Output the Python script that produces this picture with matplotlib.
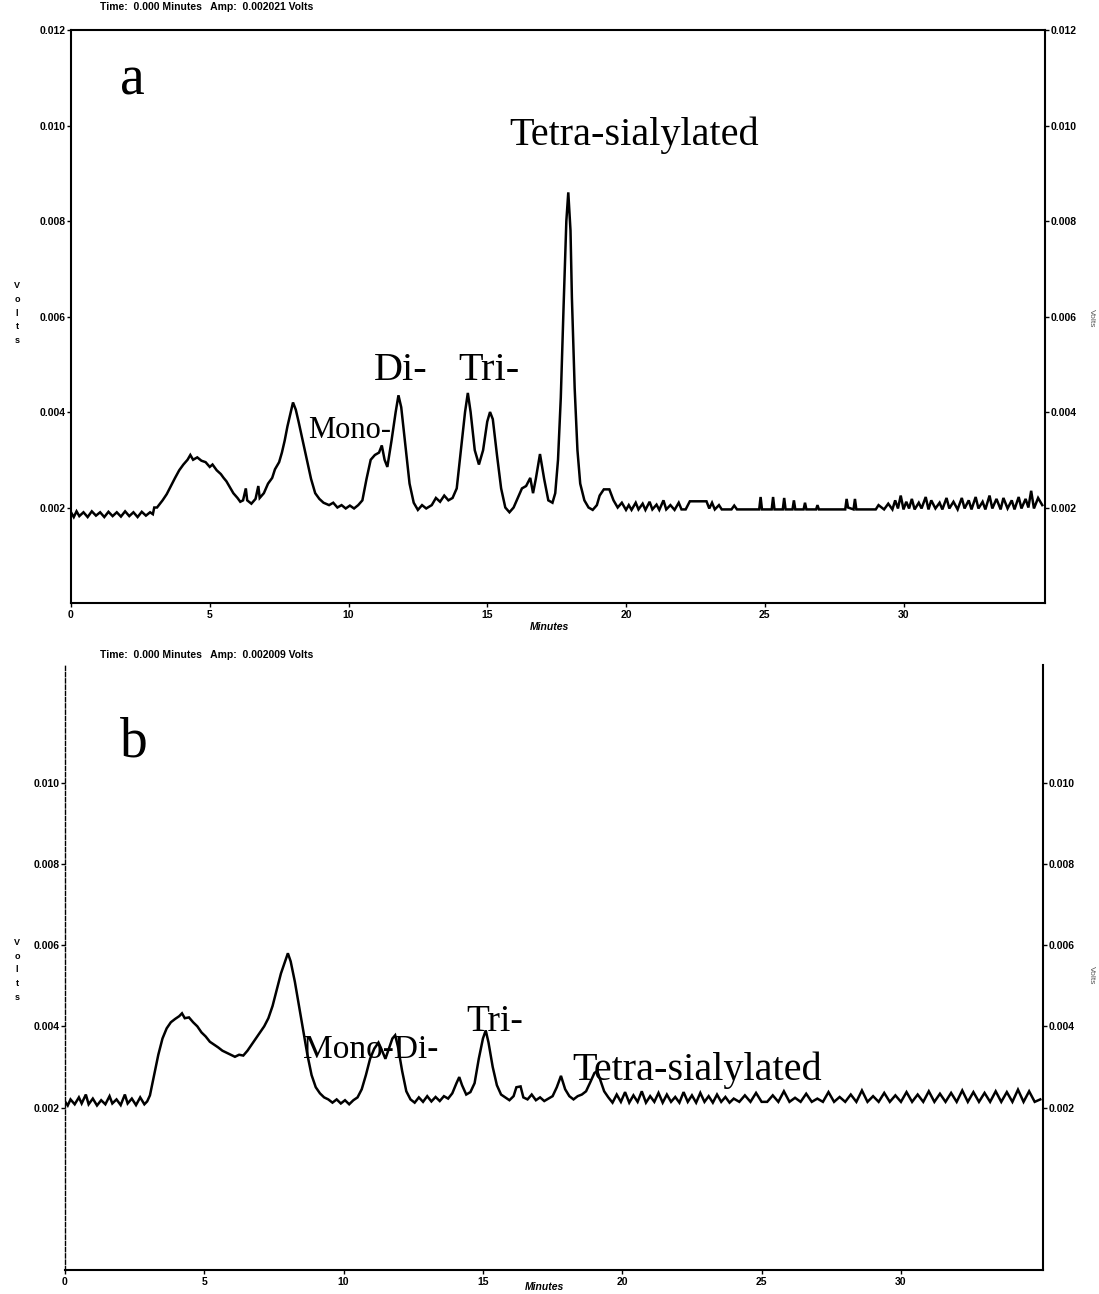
import matplotlib
matplotlib.use("Agg")
import matplotlib.pyplot as plt
from matplotlib.font_manager import FontProperties

# ---- panel a trace (minutes, volts) ----
time_a = [0.0, 0.1, 0.2, 0.3, 0.45, 0.6, 0.75, 0.9, 1.05, 1.2, 1.35, 1.5, 1.65, 1.8, 1.95, 2.1, 2.25, 2.4, 2.55, 2.7, 2.85, 2.95,
          3.0, 3.1, 3.3, 3.45, 3.6, 3.75, 3.9, 4.05, 4.2, 4.3, 4.4, 4.55, 4.7, 4.85, 5.0, 5.1, 5.25, 5.4, 5.5, 5.6, 5.75, 5.85,
          6.0, 6.1, 6.2, 6.3, 6.35, 6.5, 6.65, 6.75, 6.8, 6.95, 7.1, 7.25, 7.35, 7.5, 7.6, 7.7, 7.8, 7.9, 8.0, 8.1, 8.2, 8.35,
          8.5, 8.65, 8.8, 8.95, 9.1, 9.3, 9.45, 9.6, 9.75, 9.9, 10.05, 10.2, 10.35, 10.5, 10.65, 10.8, 10.95, 11.1, 11.2, 11.3,
          11.4, 11.55, 11.7, 11.8, 11.9, 12.05, 12.2, 12.35, 12.5, 12.65, 12.8, 13.0, 13.15, 13.3, 13.45, 13.6, 13.75, 13.9,
          14.05, 14.2, 14.3, 14.4, 14.55, 14.7, 14.85, 15.0, 15.1, 15.2, 15.35, 15.5, 15.65, 15.8, 15.95, 16.1, 16.25, 16.4,
          16.55, 16.65, 16.75, 16.9, 17.05, 17.2, 17.35, 17.45, 17.55, 17.65, 17.75, 17.85, 17.92, 18.0, 18.05, 18.15, 18.25,
          18.35, 18.5, 18.65, 18.8, 18.95, 19.05, 19.2, 19.4, 19.55, 19.7, 19.85,
          20.0, 20.1, 20.2, 20.35, 20.45, 20.6, 20.7, 20.85, 20.95, 21.1, 21.2, 21.35, 21.45, 21.6, 21.75, 21.9, 22.0, 22.15,
          22.3, 22.9, 23.0, 23.1, 23.2, 23.35, 23.45, 23.8, 23.9, 24.0, 24.8, 24.85, 24.9, 25.25, 25.3, 25.35, 25.65, 25.7,
          25.75, 26.0, 26.05, 26.1, 26.4, 26.45, 26.5, 26.85, 26.9, 26.95, 27.9, 27.95, 28.0, 28.2, 28.25, 28.3, 29.0, 29.1,
          29.3, 29.45, 29.6, 29.7, 29.8, 29.9, 30.0, 30.1, 30.2, 30.3, 30.4, 30.55, 30.65, 30.8, 30.9, 31.0, 31.15, 31.3, 31.4,
          31.55, 31.65, 31.8, 31.95, 32.1, 32.2, 32.35, 32.45, 32.6, 32.7, 32.85, 32.95, 33.1, 33.2, 33.35, 33.5, 33.6, 33.75,
          33.9, 34.0, 34.15, 34.25, 34.4, 34.5, 34.6, 34.7, 34.85, 35.0]
volts_a = [0.00190, 0.00180, 0.00192, 0.00182, 0.00190, 0.00180, 0.00192, 0.00183, 0.00190, 0.00180, 0.00191, 0.00182,
           0.00190, 0.00181, 0.00192, 0.00182, 0.00190, 0.00180, 0.00191, 0.00183, 0.00190, 0.00186,
           0.00200, 0.00200, 0.00215, 0.00228, 0.00245, 0.00262, 0.00278, 0.00290, 0.00300, 0.00310, 0.00300, 0.00305,
           0.00298, 0.00295, 0.00285, 0.00290, 0.00278, 0.00270, 0.00262, 0.00255, 0.00240, 0.00230,
           0.00220, 0.00212, 0.00215, 0.00240, 0.00215, 0.00208, 0.00218, 0.00245, 0.00220, 0.00230, 0.00250, 0.00262,
           0.00280, 0.00295, 0.00315, 0.00340, 0.00370, 0.00395, 0.00420, 0.00405, 0.00380, 0.00340,
           0.00300, 0.00260, 0.00230, 0.00218, 0.00210, 0.00205, 0.00210, 0.00200, 0.00205, 0.00198, 0.00204, 0.00198,
           0.00205, 0.00215, 0.00260, 0.00300, 0.00310, 0.00315, 0.00330, 0.00300,
           0.00285, 0.00340, 0.00400, 0.00435, 0.00410, 0.00330, 0.00250, 0.00210, 0.00195, 0.00205, 0.00198, 0.00205,
           0.00220, 0.00212, 0.00225, 0.00215, 0.00220, 0.00240,
           0.00320, 0.00400, 0.00440, 0.00400, 0.00320, 0.00290, 0.00320, 0.00380, 0.00400, 0.00385, 0.00310, 0.00240,
           0.00200, 0.00190, 0.00200, 0.00220, 0.00240, 0.00245,
           0.00262, 0.00230, 0.00260, 0.00312, 0.00260, 0.00215, 0.00210, 0.00230, 0.00300, 0.00430, 0.00620, 0.00800,
           0.00860, 0.00780, 0.00640, 0.00450, 0.00320,
           0.00250, 0.00215, 0.00200, 0.00195, 0.00205, 0.00225, 0.00238, 0.00238, 0.00215, 0.00200, 0.00210,
           0.00195, 0.00205, 0.00195, 0.00210, 0.00196, 0.00208, 0.00195, 0.00212, 0.00196, 0.00206, 0.00195, 0.00215,
           0.00196, 0.00205, 0.00195, 0.00210, 0.00196, 0.00196,
           0.00213, 0.00213, 0.00198, 0.00210, 0.00196, 0.00205, 0.00196, 0.00196, 0.00204, 0.00196, 0.00196, 0.00222,
           0.00196, 0.00196, 0.00222, 0.00196, 0.00196, 0.00220,
           0.00196, 0.00196, 0.00215, 0.00196, 0.00196, 0.00210, 0.00196, 0.00196, 0.00205, 0.00196, 0.00196, 0.00218,
           0.00200, 0.00196, 0.00218, 0.00196, 0.00196, 0.00205,
           0.00196, 0.00208, 0.00196, 0.00215, 0.00198, 0.00225, 0.00196, 0.00212, 0.00198, 0.00218, 0.00196, 0.00210,
           0.00198, 0.00222, 0.00196, 0.00215, 0.00198, 0.00210, 0.00196,
           0.00220, 0.00198, 0.00212, 0.00196, 0.00220, 0.00198, 0.00215, 0.00196, 0.00222, 0.00198, 0.00212, 0.00196,
           0.00225, 0.00198, 0.00218, 0.00196, 0.00220, 0.00198,
           0.00215, 0.00196, 0.00222, 0.00198, 0.00218, 0.00200, 0.00235, 0.00198, 0.00220, 0.00205]

# ---- panel b trace ----
time_b = [0.0, 0.1, 0.2, 0.35, 0.5, 0.6, 0.75, 0.85, 1.0, 1.15, 1.3, 1.45, 1.6, 1.7, 1.85, 2.0, 2.15, 2.25, 2.4, 2.55,
          2.7, 2.85, 2.95, 3.05, 3.2, 3.35, 3.5, 3.65, 3.8, 3.95, 4.1, 4.2, 4.3, 4.45, 4.6, 4.75, 4.9, 5.05, 5.2, 5.35,
          5.5, 5.65, 5.8, 5.95, 6.1, 6.25, 6.4, 6.55, 6.7, 6.85, 7.0, 7.15, 7.3, 7.45, 7.6, 7.75, 7.9, 8.0, 8.1, 8.25,
          8.4, 8.55, 8.7, 8.85, 9.0, 9.15, 9.3, 9.45, 9.6, 9.75, 9.9, 10.05, 10.2, 10.35, 10.5, 10.65, 10.8, 10.95, 11.1,
          11.25, 11.35, 11.5, 11.6, 11.75, 11.85, 11.95, 12.1, 12.25, 12.4, 12.55, 12.7, 12.85, 13.0, 13.15, 13.3, 13.45,
          13.6, 13.75, 13.9, 14.05, 14.15, 14.25, 14.4, 14.55, 14.7, 14.85, 15.0, 15.1, 15.2, 15.35, 15.5, 15.65, 15.8,
          15.95, 16.1, 16.2, 16.35, 16.45, 16.6, 16.75, 16.9, 17.05, 17.2, 17.35, 17.5, 17.65, 17.8, 17.95, 18.1, 18.25,
          18.4, 18.55, 18.7, 18.85, 19.0, 19.1, 19.2, 19.35, 19.5,
          19.65, 19.8, 19.95, 20.1, 20.25, 20.4, 20.55, 20.7, 20.85, 21.0, 21.15, 21.3, 21.45, 21.6, 21.75, 21.9, 22.05,
          22.2, 22.35, 22.5, 22.65, 22.8, 22.95, 23.1, 23.25, 23.4, 23.55, 23.7, 23.85, 24.0, 24.2, 24.4, 24.6, 24.8, 25.0,
          25.2, 25.4, 25.6, 25.8, 26.0, 26.2, 26.4, 26.6, 26.8, 27.0, 27.2, 27.4, 27.6, 27.8, 28.0, 28.2, 28.4, 28.6, 28.8,
          29.0, 29.2, 29.4, 29.6, 29.8, 30.0, 30.2, 30.4, 30.6, 30.8, 31.0, 31.2, 31.4, 31.6, 31.8, 32.0, 32.2, 32.4, 32.6,
          32.8, 33.0, 33.2, 33.4, 33.6, 33.8, 34.0, 34.2, 34.4, 34.6, 34.8, 35.0]
volts_b = [0.00215, 0.00205, 0.00220, 0.00208, 0.00225, 0.00210, 0.00232, 0.00208, 0.00222, 0.00205, 0.00218, 0.00208,
           0.00228, 0.00210, 0.00220, 0.00206, 0.00232, 0.00210, 0.00222, 0.00206,
           0.00225, 0.00208, 0.00215, 0.00230, 0.00280, 0.00330, 0.00370, 0.00395, 0.00410, 0.00418, 0.00425, 0.00432,
           0.00420, 0.00422, 0.00410, 0.00400, 0.00385, 0.00375, 0.00362, 0.00355,
           0.00348, 0.00340, 0.00335, 0.00330, 0.00325, 0.00330, 0.00328, 0.00340, 0.00355, 0.00370, 0.00385, 0.00400,
           0.00420, 0.00450, 0.00490, 0.00530, 0.00560, 0.00580, 0.00560, 0.00510,
           0.00450, 0.00390, 0.00330, 0.00280, 0.00250, 0.00235, 0.00225, 0.00220, 0.00212, 0.00220, 0.00210, 0.00218,
           0.00208, 0.00218, 0.00225, 0.00245, 0.00280, 0.00320, 0.00345,
           0.00360, 0.00345, 0.00320, 0.00340, 0.00370, 0.00378, 0.00350, 0.00290, 0.00240, 0.00220, 0.00212, 0.00225,
           0.00214, 0.00228, 0.00215, 0.00226, 0.00216,
           0.00228, 0.00222, 0.00235, 0.00260, 0.00275, 0.00255, 0.00232, 0.00238, 0.00260, 0.00320, 0.00370, 0.00390,
           0.00360, 0.00300, 0.00255, 0.00232, 0.00225,
           0.00218, 0.00228, 0.00250, 0.00252, 0.00225, 0.00220, 0.00232, 0.00218, 0.00225, 0.00216, 0.00222, 0.00228,
           0.00250, 0.00278, 0.00245, 0.00228, 0.00220,
           0.00228, 0.00232, 0.00240, 0.00262, 0.00285, 0.00290, 0.00270, 0.00240, 0.00225,
           0.00212, 0.00232, 0.00214, 0.00238, 0.00212, 0.00230, 0.00214, 0.00240, 0.00212, 0.00228, 0.00214, 0.00236,
           0.00212, 0.00232, 0.00214, 0.00226, 0.00212,
           0.00238, 0.00214, 0.00230, 0.00212, 0.00236, 0.00214, 0.00228, 0.00212, 0.00232, 0.00214, 0.00226, 0.00212,
           0.00222, 0.00214, 0.00230, 0.00214, 0.00236, 0.00214,
           0.00214, 0.00230, 0.00214, 0.00240, 0.00214, 0.00224, 0.00214, 0.00234, 0.00214, 0.00222, 0.00214, 0.00238,
           0.00214, 0.00226, 0.00214, 0.00232, 0.00214, 0.00242, 0.00214,
           0.00228, 0.00214, 0.00236, 0.00214, 0.00230, 0.00214, 0.00238, 0.00214, 0.00232, 0.00214, 0.00240, 0.00214,
           0.00234, 0.00214, 0.00236, 0.00214, 0.00242, 0.00214, 0.00238,
           0.00214, 0.00236, 0.00214, 0.00240, 0.00214, 0.00238, 0.00214, 0.00244, 0.00214, 0.00240, 0.00214, 0.00220]

x_ticks = [0, 5, 10, 15, 20, 25, 30]
y_ticks_a = [0.002, 0.004, 0.006, 0.008, 0.010, 0.012]
y_ticks_b = [0.002, 0.004, 0.006, 0.008, 0.010]
y_tick_labels_a = ["0.002", "0.004", "0.006", "0.008", "0.010", "0.012"]
y_tick_labels_b = ["0.002", "0.004", "0.006", "0.008", "0.010"]
headers = ["Time:  0.000 Minutes   Amp:  0.002021 Volts", "Time:  0.000 Minutes   Amp:  0.002009 Volts"]

serif = "Liberation Serif"
tickfont = dict(family="Liberation Sans", weight="bold", size=7.5)

fig = plt.figure(figsize=(10.99, 12.94), dpi=100)
ax_a = fig.add_axes([0.0646, 0.534, 0.8863, 0.4428])
ax_b = fig.add_axes([0.0591, 0.0186, 0.890, 0.4675])


def setup(ax, yticks, ylabels, ylim):
    ax.set_xlim(0, 35.1)
    ax.set_ylim(*ylim)
    ax.set_xticks(x_ticks)
    ax.set_xticklabels([str(t) for t in x_ticks])
    ax.set_yticks(yticks)
    ax.set_yticklabels(ylabels)
    ax.tick_params(axis="y", left=True, right=True, labelleft=True, labelright=True,
                   direction="out", length=3, width=1, pad=1)
    ax.tick_params(axis="x", direction="out", length=3, width=1, pad=2)
    fp = FontProperties(**tickfont)
    for t in ax.yaxis.get_major_ticks() + ax.xaxis.get_major_ticks():
        t.label1.set_fontproperties(fp)
        t.label2.set_fontproperties(fp)
    for s in ax.spines.values():
        s.set_linewidth(1.5)


ax_a.plot(time_a, volts_a, color="black", lw=1.8, solid_joinstyle="miter")
setup(ax_a, y_ticks_a, y_tick_labels_a, (0.0, 0.012))
ax_b.plot(time_b, volts_b, color="black", lw=1.8, solid_joinstyle="miter")
setup(ax_b, y_ticks_b, y_tick_labels_b, (-0.002, 0.0129))
ax_b.spines["top"].set_visible(False)
ax_b.spines["left"].set_linestyle((0, (3, 1.5)))
ax_b.spines["left"].set_linewidth(1)

# annotations
ax_a.text(1.77, 0.01094, "a", fontsize=40, family=serif, va="center")
ax_a.text(15.8, 0.00979, "Tetra-sialylated", fontsize=29, family=serif, va="center")
ax_a.text(10.9, 0.00487, "Di-", fontsize=29, family=serif, va="center")
ax_a.text(13.95, 0.00487, "Tri-", fontsize=29, family=serif, va="center")
ax_a.text(8.54, 0.00361, "Mono-", fontsize=22, family=serif, va="center")

ax_b.text(1.98, 0.0110, "b", fontsize=40, family=serif, va="center")
ax_b.text(14.4, 0.00411, "Tri-", fontsize=27, family=serif, va="center")
ax_b.text(8.56, 0.00342, "Mono-Di-", fontsize=24, family=serif, va="center")
ax_b.text(18.2, 0.00292, "Tetra-sialylated", fontsize=29, family=serif, va="center")

# headers and axis words
fig.text(100 / 1099, 1 - 7 / 1294, headers[0], fontsize=7.5, weight="bold", family="Liberation Sans", va="center")
fig.text(100 / 1099, 1 - 655 / 1294, headers[1], fontsize=7.5, weight="bold", family="Liberation Sans", va="center")
fig.text(549 / 1099, 1 - 627 / 1294, "Minutes", fontsize=7.5, weight="bold", style="italic",
         family="Liberation Sans", ha="center", va="center")
fig.text(544 / 1099, 1 - 1287 / 1294, "Minutes", fontsize=7.5, weight="bold", style="italic",
         family="Liberation Sans", ha="center", va="center")
for yc in (313, 970):
    fig.text(17 / 1099, 1 - yc / 1294, "V\no\nl\nt\ns", fontsize=6.5, weight="bold",
             family="Liberation Sans", ha="center", va="center", linespacing=1.65)
for yc in (318, 975):
    fig.text(1091 / 1099, 1 - yc / 1294, "Volts", fontsize=6, family="Liberation Sans",
             rotation=-90, ha="center", va="center", color="#555555")

fig.savefig("out.png", dpi=100)
